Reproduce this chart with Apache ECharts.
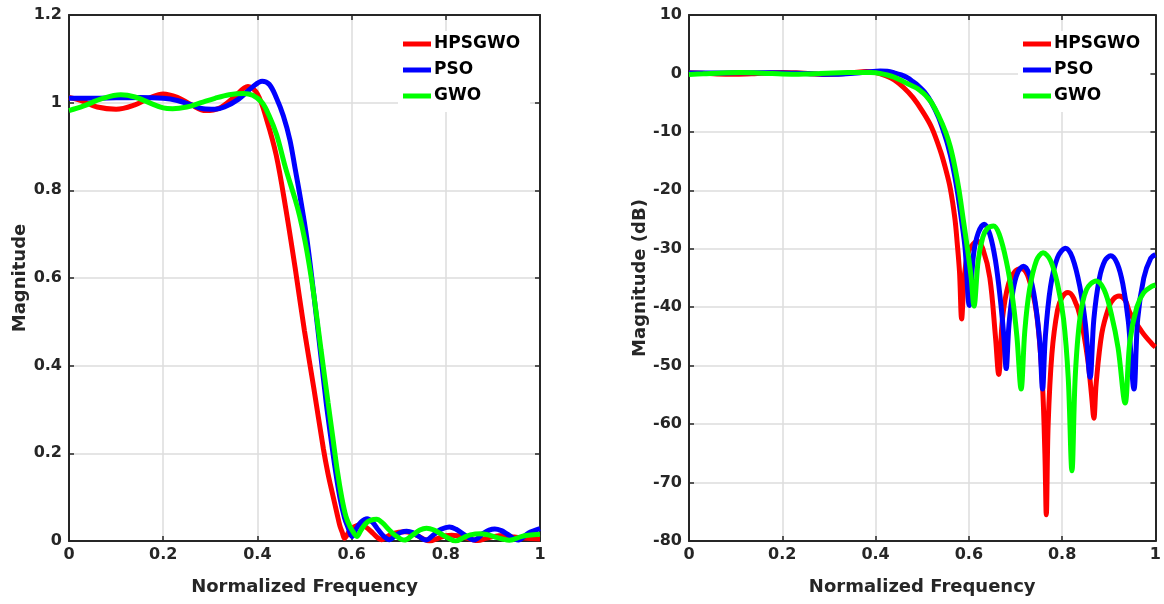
<!DOCTYPE html>
<html>
<head>
<meta charset="utf-8">
<script src="https://cdn.jsdelivr.net/npm/echarts@6/dist/echarts.min.js"></script>
<style>
html,body{margin:0;padding:0;background:#fff;}
#c{width:1164px;height:604px;}
</style>
</head>
<body>
<div id="c"></div>
<script>
const seriesNames = ['HPSGWO', 'PSO', 'GWO'];
const seriesColors = ['#ff0000', '#0000ff', '#00ff00'];
const xTicks = [0, 0.2, 0.4, 0.6, 0.8, 1];
const magTicks = [0, 0.2, 0.4, 0.6, 0.8, 1, 1.2];
const dbTicks = [-80, -70, -60, -50, -40, -30, -20, -10, 0, 10];

// [normalized frequency, magnitude]
const redMag = [[0,1.012],[0.03,1.003],[0.06,0.99],[0.1,0.985],[0.14,0.995],[0.17,1.01],[0.2,1.02],[0.23,1.012],[0.26,0.995],[0.29,0.982],[0.32,0.988],[0.35,1.012],[0.38,1.037],[0.40,1.02],[0.42,0.96],[0.44,0.88],[0.46,0.76],[0.48,0.624],[0.50,0.479],[0.52,0.347],[0.54,0.211],[0.55,0.153],[0.56,0.105],[0.57,0.058],[0.575,0.035],[0.58,0.02],[0.585,0.006],[0.595,0.022],[0.605,0.032],[0.618,0.037],[0.63,0.032],[0.645,0.018],[0.657,0.006],[0.664,0.003],[0.672,0.008],[0.685,0.016],[0.70,0.020],[0.713,0.021],[0.728,0.018],[0.745,0.009],[0.757,0.0025],[0.766,0],[0.778,0.004],[0.79,0.009],[0.80,0.012],[0.8125,0.0133],[0.825,0.012],[0.84,0.008],[0.855,0.0035],[0.868,0.001],[0.885,0.006],[0.90,0.010],[0.922,0.0124],[0.945,0.009],[0.972,0.006],[1.0,0.0046]];
const blueMag = [[0,1.010],[0.05,1.010],[0.1,1.011],[0.15,1.012],[0.2,1.01],[0.23,1.005],[0.26,0.995],[0.285,0.986],[0.31,0.985],[0.33,0.99],[0.36,1.008],[0.39,1.036],[0.41,1.049],[0.425,1.042],[0.44,1.012],[0.455,0.97],[0.469,0.915],[0.48,0.85],[0.49,0.79],[0.505,0.69],[0.52,0.56],[0.535,0.42],[0.546,0.316],[0.555,0.243],[0.565,0.166],[0.575,0.10],[0.585,0.053],[0.592,0.032],[0.601,0.01],[0.61,0.028],[0.62,0.043],[0.633,0.051],[0.645,0.042],[0.657,0.025],[0.668,0.011],[0.68,0.003],[0.695,0.014],[0.705,0.02],[0.717,0.0224],[0.73,0.019],[0.742,0.011],[0.758,0.002],[0.775,0.015],[0.79,0.0266],[0.8075,0.032],[0.822,0.0266],[0.838,0.015],[0.86,0.0025],[0.88,0.0178],[0.892,0.025],[0.904,0.0275],[0.918,0.0237],[0.93,0.016],[0.954,0.002],[0.975,0.0178],[1.0,0.028]];
const greenMag = [[0,0.982],[0.03,0.992],[0.07,1.009],[0.11,1.018],[0.14,1.013],[0.17,1.0],[0.2,0.988],[0.22,0.986],[0.25,0.99],[0.28,1.0],[0.31,1.01],[0.34,1.018],[0.37,1.021],[0.39,1.017],[0.41,1.0],[0.425,0.97],[0.441,0.926],[0.46,0.85],[0.48,0.78],[0.49,0.74],[0.501,0.685],[0.51,0.63],[0.52,0.56],[0.535,0.437],[0.55,0.316],[0.56,0.237],[0.57,0.158],[0.579,0.1],[0.588,0.056],[0.597,0.032],[0.605,0.018],[0.611,0.01],[0.62,0.025],[0.63,0.04],[0.64,0.047],[0.653,0.0495],[0.665,0.042],[0.68,0.025],[0.693,0.0126],[0.712,0.002],[0.73,0.014],[0.745,0.025],[0.759,0.029],[0.775,0.025],[0.79,0.016],[0.803,0.008],[0.821,0.0],[0.838,0.008],[0.852,0.014],[0.873,0.0168],[0.89,0.014],[0.905,0.009],[0.92,0.0045],[0.935,0.0015],[0.96,0.01],[0.975,0.013],[1.0,0.0155]];

// [normalized frequency, magnitude in dB]
const redDb = [[0,0.1],[0.03,0.03],[0.06,-0.09],[0.1,-0.13],[0.14,-0.04],[0.17,0.09],[0.2,0.17],[0.23,0.1],[0.26,-0.04],[0.29,-0.16],[0.32,-0.1],[0.35,0.1],[0.38,0.32],[0.40,0.17],[0.42,-0.35],[0.44,-1.1],[0.46,-2.4],[0.48,-4.1],[0.50,-6.4],[0.52,-9.2],[0.54,-13.5],[0.55,-16.3],[0.56,-19.6],[0.57,-24.8],[0.575,-29],[0.58,-34],[0.5845,-42],[0.59,-35],[0.597,-31],[0.605,-29.6],[0.618,-28.7],[0.63,-30],[0.645,-35],[0.657,-45],[0.664,-51.5],[0.672,-42],[0.685,-36],[0.70,-33.8],[0.713,-33.4],[0.728,-35],[0.745,-41],[0.757,-52],[0.763,-65],[0.766,-75.5],[0.770,-60],[0.778,-48],[0.79,-40.5],[0.80,-38.3],[0.8125,-37.5],[0.825,-38.5],[0.84,-42],[0.855,-49],[0.863,-55],[0.868,-59],[0.873,-53],[0.885,-44.5],[0.90,-40],[0.91,-38.6],[0.922,-38.1],[0.935,-38.8],[0.945,-40.9],[0.972,-44.3],[0.993,-46.3],[1.0,-46.8]];
const blueDb = [[0,0.09],[0.05,0.09],[0.1,0.1],[0.15,0.1],[0.2,0.09],[0.23,0.04],[0.26,-0.04],[0.285,-0.12],[0.31,-0.13],[0.33,-0.09],[0.36,0.07],[0.39,0.31],[0.41,0.42],[0.425,0.36],[0.44,0.1],[0.455,-0.26],[0.469,-0.77],[0.48,-1.4],[0.49,-2.0],[0.505,-3.2],[0.52,-5.0],[0.535,-7.5],[0.546,-10],[0.555,-12.3],[0.565,-15.6],[0.575,-20],[0.585,-25.5],[0.592,-30],[0.601,-39.7],[0.61,-31],[0.62,-27.3],[0.633,-25.8],[0.645,-27.5],[0.657,-32],[0.668,-39],[0.675,-45],[0.68,-50.5],[0.686,-43],[0.695,-37],[0.705,-34],[0.717,-33],[0.73,-34.5],[0.742,-39],[0.752,-46],[0.758,-54],[0.764,-45],[0.775,-36.5],[0.79,-31.5],[0.8075,-29.9],[0.822,-31.5],[0.838,-36.5],[0.85,-43],[0.86,-52],[0.868,-42],[0.88,-35],[0.892,-32],[0.904,-31.2],[0.918,-32.5],[0.93,-36],[0.942,-42.5],[0.954,-54],[0.962,-42],[0.975,-35],[0.99,-31.6],[1.0,-31]];
const greenDb = [[0,-0.16],[0.03,-0.07],[0.07,0.08],[0.11,0.15],[0.14,0.11],[0.17,0.0],[0.2,-0.1],[0.22,-0.12],[0.25,-0.09],[0.28,0.0],[0.31,0.09],[0.34,0.15],[0.37,0.18],[0.39,0.15],[0.41,0.0],[0.425,-0.26],[0.441,-0.67],[0.46,-1.4],[0.48,-2.2],[0.49,-2.6],[0.501,-3.3],[0.51,-4.0],[0.52,-5.0],[0.535,-7.2],[0.55,-10],[0.56,-12.5],[0.57,-16],[0.579,-20],[0.588,-25],[0.597,-30],[0.605,-35],[0.611,-39.8],[0.62,-32],[0.63,-28],[0.64,-26.5],[0.653,-26.1],[0.665,-27.5],[0.68,-32],[0.693,-38],[0.703,-45],[0.712,-54],[0.72,-44],[0.73,-37],[0.745,-32],[0.759,-30.7],[0.775,-32],[0.79,-36],[0.803,-42],[0.813,-52],[0.821,-68],[0.828,-52],[0.838,-42],[0.852,-37],[0.873,-35.5],[0.89,-37],[0.905,-41],[0.92,-47],[0.935,-56.4],[0.945,-46],[0.96,-40],[0.975,-37.5],[0.993,-36.4],[1.0,-36.2]];

const FONT = 'DejaVu Sans';
const AX = '#262626';
const GRIDC = '#dcdcdc';

function xAx(gi, primary, name) {
  return {
    type: 'value', gridIndex: gi, min: xTicks[0], max: xTicks[xTicks.length - 1], interval: 0.2,
    position: primary ? 'bottom' : 'top',
    name: primary ? name : '', nameLocation: 'middle', nameGap: 37,
    nameTextStyle: { fontFamily: FONT, fontWeight: 'bold', fontSize: 18, color: AX },
    axisLine: { show: true, onZero: false, lineStyle: { color: AX, width: 2 } },
    axisTick: { show: true, inside: true, length: 5, lineStyle: { color: AX, width: 1.5 } },
    axisLabel: { show: primary, margin: 6, fontFamily: FONT, fontWeight: 'bold', fontSize: 16, color: AX },
    splitLine: { show: primary, lineStyle: { color: GRIDC, width: 1.5 } }
  };
}
function yAx(gi, primary, name, ticks, nameGap) {
  return {
    type: 'value', gridIndex: gi, min: ticks[0], max: ticks[ticks.length - 1], interval: ticks[1] - ticks[0],
    position: primary ? 'left' : 'right',
    name: primary ? name : '', nameLocation: 'middle', nameGap: nameGap, nameRotate: 90,
    nameTextStyle: { fontFamily: FONT, fontWeight: 'bold', fontSize: 18, color: AX },
    axisLine: { show: true, onZero: false, lineStyle: { color: AX, width: 2 } },
    axisTick: { show: true, inside: true, length: 5, lineStyle: { color: AX, width: 1.5 } },
    axisLabel: { show: primary, margin: 7, fontFamily: FONT, fontWeight: 'bold', fontSize: 16, color: AX },
    splitLine: { show: primary, lineStyle: { color: GRIDC, width: 1.5 } }
  };
}
function legendAt(left) {
  return {
    data: seriesNames, orient: 'vertical', left: left, top: 31,
    backgroundColor: '#ffffff', padding: [3, 10, 6, 5], itemGap: 6,
    icon: 'rect', itemWidth: 28, itemHeight: 5,
    textStyle: { fontFamily: FONT, fontWeight: 'bold', fontSize: 17, color: '#000', lineHeight: 20, padding: [0, 0, 0, -2] },
    selectedMode: false
  };
}
const magData = [redMag, blueMag, greenMag];
const dbData = [redDb, blueDb, greenDb];
const series = [];
magData.forEach((d, i) => series.push({
  name: seriesNames[i], type: 'line', xAxisIndex: 0, yAxisIndex: 0, data: d,
  showSymbol: false, smooth: 0.35, lineStyle: { color: seriesColors[i], width: 5 },
  itemStyle: { color: seriesColors[i] }, z: 3 + i
}));
dbData.forEach((d, i) => series.push({
  name: seriesNames[i], type: 'line', xAxisIndex: 2, yAxisIndex: 2, data: d,
  showSymbol: false, smooth: 0.35, lineStyle: { color: seriesColors[i], width: 5 },
  itemStyle: { color: seriesColors[i] }, z: 3 + i
}));

const chart = echarts.init(document.getElementById('c'), null, { renderer: 'canvas' });
chart.setOption({
  animation: false,
  backgroundColor: '#ffffff',
  grid: [
    { left: 69, right: 624, top: 15, bottom: 63, show: false },
    { left: 689, right: 4, top: 15, bottom: 63, show: false }
  ],
  legend: [legendAt(398), legendAt(1018)],
  xAxis: [xAx(0, true, 'Normalized Frequency'), xAx(0, false), xAx(1, true, 'Normalized Frequency'), xAx(1, false)],
  yAxis: [yAx(0, true, 'Magnitude', magTicks, 38), yAx(0, false, '', magTicks, 0), yAx(1, true, 'Magnitude (dB)', dbTicks, 38), yAx(1, false, '', dbTicks, 0)],
  series: series
});
</script>
</body>
</html>
